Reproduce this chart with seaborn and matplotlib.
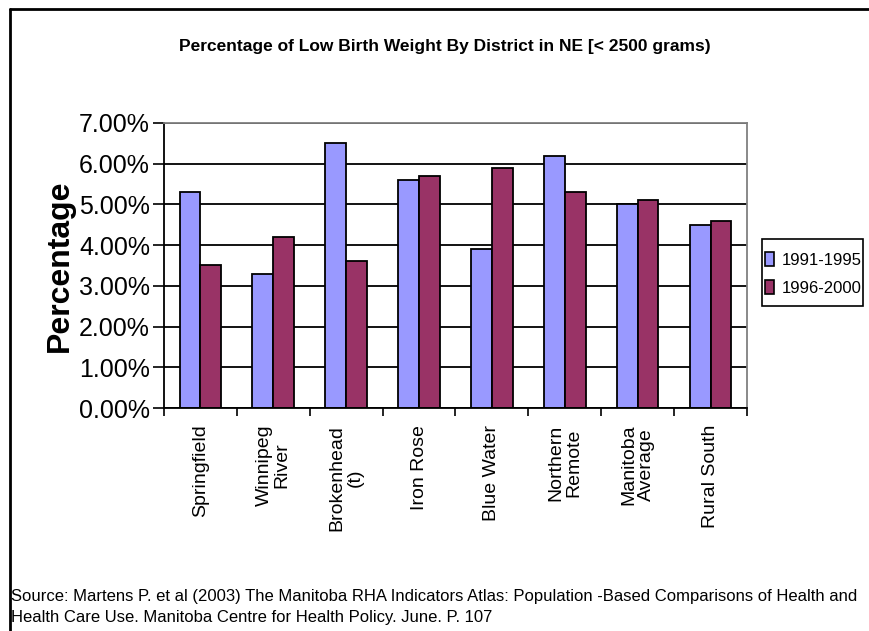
import numpy as np
import pandas as pd
import matplotlib
matplotlib.use("Agg")
import matplotlib.pyplot as plt
from matplotlib.ticker import PercentFormatter, FixedLocator
from matplotlib.lines import Line2D
from matplotlib.patches import Rectangle
import seaborn as sns

# data
districts = ["Springfield", "Winnipeg\nRiver", "Brokenhead\n(t)", "Iron Rose",
             "Blue Water", "Northern\nRemote", "Manitoba\nAverage", "Rural South"]
pct_1991_1995 = [5.3, 3.3, 6.5, 5.6, 3.9, 6.2, 5.0, 4.5]
pct_1996_2000 = [3.5, 4.2, 3.6, 5.7, 5.9, 5.3, 5.1, 4.6]
periods = ["1991-1995", "1996-2000"]
colors = ["#9999FF", "#993366"]

df = pd.DataFrame({
    "District": districts * 2,
    "Percent": pct_1991_1995 + pct_1996_2000,
    "Period": [periods[0]] * len(districts) + [periods[1]] * len(districts),
})

sns.set_theme(style="white", rc={"text.color": "black", "axes.labelcolor": "black",
                                 "xtick.color": "black", "ytick.color": "black"})
plt.rcParams["font.family"] = ["Liberation Sans", "DejaVu Sans"]

fig = plt.figure(figsize=(8.7, 6.31), dpi=100)
ax = fig.add_axes([0.1885, 0.3534, 0.6701, 0.4517])

sns.barplot(data=df, x="District", y="Percent", hue="Period", palette=colors,
            saturation=1, width=0.571, edgecolor="black", linewidth=1.3, ax=ax,
            legend=False)

ax.set_ylim(0, 7)
ax.set_xlim(-0.5, len(districts) - 0.5)
ax.yaxis.set_major_locator(FixedLocator(np.arange(0, 8, 1)))
ax.yaxis.set_major_formatter(PercentFormatter(decimals=2))
ax.grid(axis="y", color="black", linewidth=1.3, zorder=0)
ax.set_axisbelow(True)

for side in ["left", "bottom"]:
    ax.spines[side].set_color("black")
    ax.spines[side].set_linewidth(1.3)
for side in ["top", "right"]:
    ax.spines[side].set_color("#808080")
    ax.spines[side].set_linewidth(1.3)

ax.tick_params(axis="y", left=True, length=8, width=1.2, color="black",
               labelsize=18, pad=2)
ax.tick_params(axis="x", which="major", length=0, labelsize=14, pad=12)
ax.set_xticks(np.arange(-0.5, len(districts), 1), minor=True)
ax.tick_params(axis="x", which="minor", bottom=True, length=6, width=1.2, color="black")
for lab in ax.get_xticklabels():
    lab.set_rotation(90)
    lab.set_multialignment("center")
    lab.set_linespacing(1.05)

ax.set_xlabel("")
ax.set_ylabel("Percentage", fontsize=23, fontweight="bold", labelpad=3)

# legend: frame drawn as a separate box to match the tight Excel layout
handles = [plt.Rectangle((0, 0), 1, 1, facecolor=c, edgecolor="black", linewidth=1.2)
           for c in colors]
leg = fig.legend(handles, periods, loc="center left", bbox_to_anchor=(0.879, 0.566),
                 fontsize=12, frameon=False, handlelength=0.55,
                 handleheight=0.95, handletextpad=0.45, borderpad=0,
                 labelspacing=0.75, borderaxespad=0)
fig.add_artist(Rectangle((762 / 870, 1 - 306 / 631), 101 / 870, 67 / 631,
                         transform=fig.transFigure, fill=False,
                         edgecolor="black", linewidth=1.2))

fig.text(0.511, 0.926, "Percentage of Low Birth Weight By District in NE [< 2500 grams)",
         ha="center", va="center", fontsize=12.5, fontweight="bold")

fig.text(0.013, 0.038,
         "Source: Martens P. et al (2003) The Manitoba RHA Indicators Atlas: Population -Based Comparisons of Health and\n"
         "Health Care Use. Manitoba Centre for Health Policy. June. P. 107",
         ha="left", va="center", fontsize=12, linespacing=1.55)

# outer chart border (top and left visible)
fig.add_artist(Line2D([10 / 870, 1], [1 - 9 / 631, 1 - 9 / 631], color="black", linewidth=2))
fig.add_artist(Line2D([10 / 870, 10 / 870], [0, 1 - 9 / 631], color="black", linewidth=2))

fig.savefig("out.png", dpi=100)
